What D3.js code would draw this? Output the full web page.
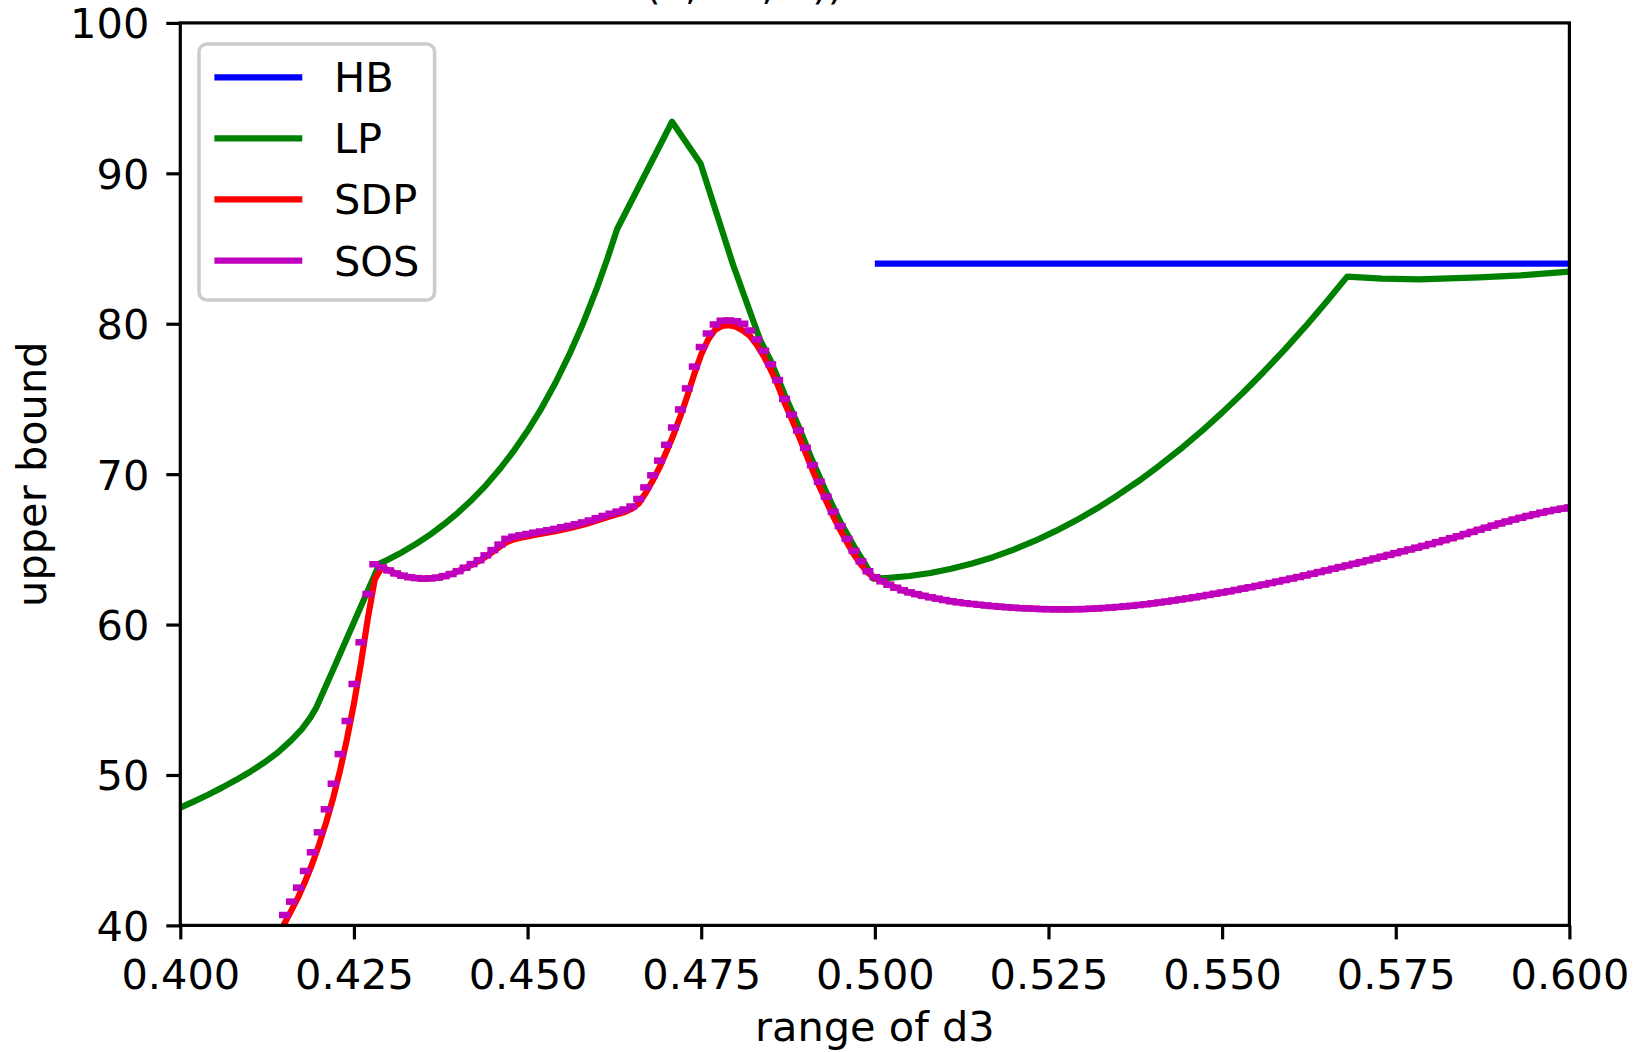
<!DOCTYPE html>
<html>
<head>
<meta charset="utf-8">
<script src="https://cdn.jsdelivr.net/npm/d3@7"></script>
<style>
  html, body { margin: 0; padding: 0; background: #ffffff; }
  svg { display: block; }
  text { font-family: "DejaVu Sans", sans-serif; fill: #000; }
</style>
</head>
<body>
<svg id="chart" width="1634" height="1052"></svg>
<script>
// ---- data ----
const xTicks = [0.400, 0.425, 0.450, 0.475, 0.500, 0.525, 0.550, 0.575, 0.600];
const yTicks = [40, 50, 60, 70, 80, 90, 100];
const seriesNames = ["HB", "LP", "SDP", "SOS"];
const seriesColors = ["#0000ff", "#008000", "#ff0000", "#bf00bf"];

// HB: constant bound on the right half of the range
const hbX = [0.500, 0.600];
const hbY = [84.0, 84.0];

// LP bound (read at its kinks and along its curves)
const lpX = [0.4000, 0.4020, 0.4040, 0.4060, 0.4080, 0.4100, 0.4120, 0.4140, 0.4160, 0.4175,
             0.4187, 0.4196, 0.4220, 0.4250, 0.4287, 0.4300, 0.4320, 0.4340, 0.4360, 0.4380,
             0.4400, 0.4420, 0.4440, 0.4460, 0.4480, 0.4500, 0.4520, 0.4540, 0.4560, 0.4580,
             0.4600, 0.4615, 0.4629, 0.4708, 0.4749, 0.4796, 0.4835, 0.4850, 0.4870, 0.4890,
             0.4910, 0.4930, 0.4950, 0.4970, 0.4985, 0.4998, 0.5020, 0.5050, 0.5080, 0.5110,
             0.5140, 0.5170, 0.5200, 0.5230, 0.5260, 0.5290, 0.5320, 0.5350, 0.5380, 0.5410,
             0.5440, 0.5470, 0.5500, 0.5530, 0.5560, 0.5590, 0.5620, 0.5650, 0.5680, 0.5730,
             0.5784, 0.5870, 0.5930, 0.6000];
const lpY = [47.83, 48.25, 48.69, 49.16, 49.66, 50.20, 50.80, 51.48, 52.32, 53.05,
             53.80, 54.50, 57.00, 60.15, 64.05, 64.34, 64.83, 65.38, 65.99, 66.68,
             67.45, 68.30, 69.26, 70.34, 71.54, 72.88, 74.38, 76.06, 77.94, 80.04,
             82.39, 84.34, 86.30, 93.43, 90.66, 83.90, 78.90, 77.55, 75.30, 73.20,
             70.90, 68.80, 66.85, 65.20, 64.10, 63.05, 63.10, 63.23, 63.43, 63.71,
             64.06, 64.48, 64.98, 65.56, 66.21, 66.93, 67.73, 68.61, 69.55, 70.58,
             71.67, 72.84, 74.09, 75.41, 76.81, 78.28, 79.82, 81.44, 83.13, 83.00,
             82.95, 83.08, 83.22, 83.46];

// SDP bound, one value per 0.001 from 0.414 to 0.600
const sdpX = d3.range(414, 601).map(i => i / 1000);
const sdpY = [39.25,
  40.13, 41.00, 41.90, 42.95, 44.10, 45.40, 46.85, 48.45, 50.30, 52.40,
  54.75, 57.40, 60.40, 63.00, 63.80, 63.60, 63.40, 63.25, 63.15, 63.09,
  63.05, 63.07, 63.12, 63.22, 63.36, 63.55, 63.76, 63.98, 64.22, 64.52,
  64.85, 65.18, 65.48, 65.66, 65.77, 65.86, 65.95, 66.04, 66.12, 66.21,
  66.31, 66.41, 66.52, 66.64, 66.77, 66.91, 67.06, 67.21, 67.35, 67.48,
  67.70, 68.05, 68.75, 69.55, 70.45, 71.50, 72.60, 73.85, 75.20, 76.65,
  77.95, 78.95, 79.60, 79.85, 79.90, 79.80, 79.55, 79.20, 78.60, 77.85,
  76.95, 75.95, 74.75, 73.70, 72.60, 71.45, 70.30, 69.20, 68.20, 67.20,
  66.30, 65.45, 64.65, 64.00, 63.45, 63.10, 62.88, 62.65, 62.45, 62.28,
  62.14, 62.02, 61.91, 61.81, 61.72, 61.63, 61.55, 61.48, 61.42, 61.37,
  61.32, 61.27, 61.23, 61.19, 61.15, 61.12, 61.09, 61.07, 61.05, 61.03,
  61.02, 61.01, 61.01, 61.01, 61.02, 61.03, 61.05, 61.07, 61.10, 61.13,
  61.17, 61.21, 61.25, 61.30, 61.35, 61.41, 61.47, 61.53, 61.60, 61.67,
  61.74, 61.81, 61.89, 61.97, 62.05, 62.13, 62.21, 62.30, 62.39, 62.48,
  62.57, 62.66, 62.76, 62.86, 62.96, 63.06, 63.16, 63.27, 63.38, 63.49,
  63.60, 63.71, 63.82, 63.93, 64.04, 64.15, 64.27, 64.39, 64.51, 64.63,
  64.75, 64.87, 64.99, 65.11, 65.23, 65.35, 65.48, 65.61, 65.74, 65.87,
  66.02, 66.16, 66.30, 66.44, 66.58, 66.72, 66.85, 66.98, 67.10, 67.22,
  67.33, 67.44, 67.54, 67.63, 67.71, 67.79];

// SOS bound, one marker per 0.001 from 0.415 to 0.600
const sosX = d3.range(415, 601).map(i => i / 1000);
const sosY = [
  40.69, 41.58, 42.51, 43.62, 44.86, 46.19, 47.72, 49.42, 51.39, 53.59,
  56.05, 58.82, 62.03, 64.01, 63.80, 63.60, 63.40, 63.25, 63.15, 63.09,
  63.05, 63.07, 63.12, 63.22, 63.36, 63.55, 63.78, 64.02, 64.28, 64.60,
  64.95, 65.32, 65.70, 65.84, 65.93, 66.02, 66.11, 66.19, 66.27, 66.36,
  66.47, 66.56, 66.67, 66.79, 66.92, 67.07, 67.22, 67.37, 67.51, 67.65,
  67.85, 68.35, 69.12, 69.92, 70.90, 71.95, 73.10, 74.30, 75.70, 77.15,
  78.45, 79.35, 79.95, 80.20, 80.22, 80.16, 80.00, 79.55, 78.95, 78.20,
  77.30, 76.25, 75.00, 73.95, 72.90, 71.75, 70.60, 69.50, 68.50, 67.50,
  66.55, 65.70, 64.90, 64.20, 63.55, 63.15, 62.88, 62.65, 62.45, 62.28,
  62.14, 62.02, 61.91, 61.81, 61.72, 61.63, 61.55, 61.48, 61.42, 61.37,
  61.32, 61.27, 61.23, 61.19, 61.15, 61.12, 61.09, 61.07, 61.05, 61.03,
  61.02, 61.01, 61.01, 61.01, 61.02, 61.03, 61.05, 61.07, 61.10, 61.13,
  61.17, 61.21, 61.25, 61.30, 61.35, 61.41, 61.47, 61.53, 61.60, 61.67,
  61.74, 61.81, 61.89, 61.97, 62.05, 62.13, 62.21, 62.30, 62.39, 62.48,
  62.57, 62.66, 62.76, 62.86, 62.96, 63.06, 63.16, 63.27, 63.38, 63.49,
  63.60, 63.71, 63.82, 63.93, 64.04, 64.15, 64.27, 64.39, 64.51, 64.63,
  64.75, 64.87, 64.99, 65.11, 65.23, 65.35, 65.48, 65.61, 65.74, 65.87,
  66.02, 66.16, 66.30, 66.44, 66.58, 66.72, 66.85, 66.98, 67.10, 67.22,
  67.33, 67.44, 67.54, 67.63, 67.71, 67.79];

const titleText = "(a, d3, b))";
const xLabel = "range of d3";
const yLabel = "upper bound";

// ---- layout ----
const plot = { left: 180.3, right: 1569.4, top: 22.9, bottom: 925.4 };
const FONT = 41.5;
const LW = 6.2;

const svg = d3.select("#chart");

const x = d3.scaleLinear().domain([0.4, 0.6]).range([plot.left, plot.right]);
const y = d3.scaleLinear().domain([40, 100]).range([plot.bottom, plot.top]);

svg.append("defs").append("clipPath").attr("id", "plot-clip")
  .append("rect")
  .attr("x", plot.left).attr("y", plot.top)
  .attr("width", plot.right - plot.left).attr("height", plot.bottom - plot.top);

const zip = (xs, ys) => xs.map((v, i) => [v, ys[i]]);
const line = d3.line().x(d => x(d[0])).y(d => y(d[1]));

const layer = svg.append("g").attr("clip-path", "url(#plot-clip)");

// HB, LP, SDP as lines
[[hbX, hbY, 0], [lpX, lpY, 1], [sdpX, sdpY, 2]].forEach(([xs, ys, k]) => {
  layer.append("path")
    .datum(zip(xs, ys))
    .attr("d", line)
    .attr("fill", "none")
    .attr("stroke", seriesColors[k])
    .attr("stroke-width", LW)
    .attr("stroke-linejoin", "round");
});

// SOS as horizontal dash markers
const mw = 11, mh = 6.5;
layer.append("g").selectAll("rect")
  .data(zip(sosX, sosY))
  .join("rect")
  .attr("x", d => x(d[0]) - mw / 2)
  .attr("y", d => y(d[1]) - mh / 2)
  .attr("width", mw)
  .attr("height", mh)
  .attr("fill", seriesColors[3]);

// ---- axes ----
const xAxis = d3.axisBottom(x)
  .tickValues(xTicks)
  .tickFormat(d3.format(".3f"))
  .tickSize(14)
  .tickSizeOuter(0)
  .tickPadding(20);
const gx = svg.append("g").attr("transform", `translate(0,${plot.bottom})`).call(xAxis);

const yAxis = d3.axisLeft(y)
  .tickValues(yTicks)
  .tickFormat(d3.format("d"))
  .tickSize(14)
  .tickSizeOuter(0)
  .tickPadding(17);
const gy = svg.append("g").attr("transform", `translate(${plot.left},0)`).call(yAxis);

[gx, gy].forEach(g => {
  g.select(".domain").remove();
  g.selectAll(".tick line").attr("stroke", "#000").attr("stroke-width", 3.2);
  g.selectAll(".tick text")
    .attr("font-size", FONT)
    .attr("font-family", "DejaVu Sans")
    .attr("fill", "#000");
});
gy.selectAll(".tick text").attr("dy", "0.36em");

// spines
svg.append("rect")
  .attr("x", plot.left).attr("y", plot.top)
  .attr("width", plot.right - plot.left).attr("height", plot.bottom - plot.top)
  .attr("fill", "none").attr("stroke", "#000").attr("stroke-width", 3.2);

// axis labels
svg.append("text")
  .attr("x", (plot.left + plot.right) / 2)
  .attr("y", 1041)
  .attr("text-anchor", "middle")
  .attr("font-size", FONT)
  .text(xLabel);

svg.append("text")
  .attr("transform", `translate(46,${(plot.top + plot.bottom) / 2}) rotate(-90)`)
  .attr("text-anchor", "middle")
  .attr("font-size", FONT)
  .text(yLabel);

// title (sits above the visible area, only its lowest strokes show)
svg.append("text")
  .attr("x", 645)
  .attr("y", -1)
  .attr("font-size", 40)
  .text(titleText);

// ---- legend ----
const leg = svg.append("g");
leg.append("rect")
  .attr("x", 199).attr("y", 44)
  .attr("width", 235.6).attr("height", 256)
  .attr("rx", 8).attr("ry", 8)
  .attr("fill", "#ffffff").attr("fill-opacity", 0.8)
  .attr("stroke", "#cccccc").attr("stroke-width", 3.5);

const legRows = [77.3, 138.3, 199.3, 260.7];
seriesNames.forEach((name, i) => {
  leg.append("line")
    .attr("x1", 214.4).attr("x2", 302.3)
    .attr("y1", legRows[i]).attr("y2", legRows[i])
    .attr("stroke", seriesColors[i])
    .attr("stroke-width", LW);
  leg.append("text")
    .attr("x", 334)
    .attr("y", legRows[i])
    .attr("dy", "0.36em")
    .attr("font-size", FONT)
    .text(name);
});
</script>
</body>
</html>
